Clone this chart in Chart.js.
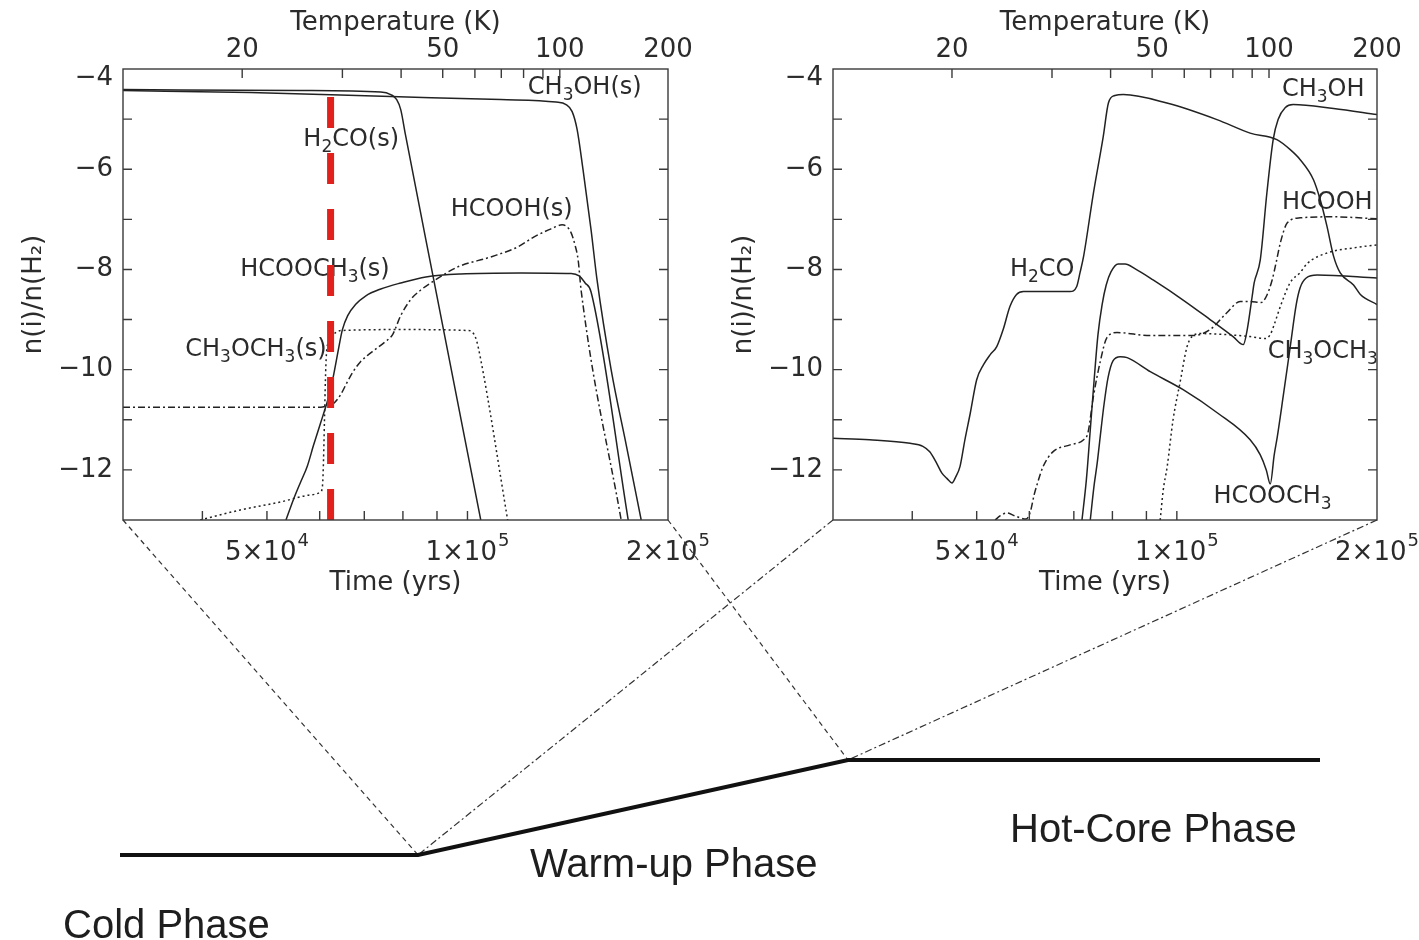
<!DOCTYPE html>
<html>
<head>
<meta charset="utf-8">
<script src="https://cdn.jsdelivr.net/npm/chart.js@4.4.1/dist/chart.umd.min.js"></script>
<style>
  html, body { margin: 0; padding: 0; background: #fff; overflow: hidden; }
  body { width: 1419px; height: 940px; position: relative; }
  .panel { position: absolute; top: 0; height: 610px; }
  #leftBox { left: 0; width: 720px; }
  #rightBox { left: 710px; width: 709px; }
  #phaseBox { position: absolute; left: 0; top: 0; width: 1419px; height: 940px; pointer-events: none; }
</style>
</head>
<body>
<div id="leftBox" class="panel"><canvas id="leftChart"></canvas></div>
<div id="rightBox" class="panel"><canvas id="rightChart"></canvas></div>
<div id="phaseBox"><canvas id="phaseChart"></canvas></div>
<script>
// axes
const timeMin = 3.04e4;
const timeMax = 2.0e5;
const timeTicks = [4e4, 5e4, 6e4, 7e4, 8e4, 9e4, 1e5, 2e5];
const timeTickBase = ['', '5×10', '', '', '', '', '1×10', '2×10'];
const timeTickExp = ['', '4', '', '', '', '', '5', '5'];
// temperature ticks (20..100 K, 200 K) placed at the time they are reached
const tempTicks = [4.59e4, 6.49e4, 7.95e4, 9.18e4, 1.026e5, 1.124e5, 1.214e5, 1.298e5, 1.376e5, 2.0e5];
const tempTickLabels = ['20', '', '', '50', '', '', '', '', '100', '200'];
const abundTicks = [-13, -12, -11, -10, -9, -8, -7, -6, -5, -4];

// left panel: ices, [time (yr), log n(i)/n(H2)]
const iceCH3OH = [[3.04e4,-4.43],[4.72e4,-4.47],[7.67e4,-4.55],[1.122e5,-4.61],[1.358e5,-4.66],[1.406e5,-4.71],[1.436e5,-4.85],[1.461e5,-5.21],[1.491e5,-6.01],[1.533e5,-7.21],[1.565e5,-8.21],[1.643e5,-10.0],[1.731e5,-11.5],[1.823e5,-13.0]];
const iceH2CO = [[3.04e4,-4.41],[5.61e4,-4.43],[7.41e4,-4.46],[7.67e4,-4.51],[7.83e4,-4.61],[7.94e4,-4.81],[8.07e4,-5.31],[8.90e4,-8.21],[1.047e5,-13.0]];
const iceHCOOCH3 = [[5.34e4,-13.0],[5.48e4,-12.59],[5.61e4,-12.26],[5.75e4,-11.92],[5.87e4,-11.52],[6.02e4,-11.06],[6.14e4,-10.70],[6.23e4,-10.40],[6.31e4,-10.04],[6.40e4,-9.60],[6.49e4,-9.20],[6.61e4,-8.92],[6.79e4,-8.70],[7.03e4,-8.53],[7.41e4,-8.39],[7.94e4,-8.27],[8.66e4,-8.15],[9.77e4,-8.09],[1.203e5,-8.07],[1.431e5,-8.08],[1.471e5,-8.13],[1.502e5,-8.27],[1.533e5,-8.45],[1.743e5,-13.0]];
const iceCH3OCH3 = [[3.97e4,-13.0],[4.56e4,-12.80],[5.24e4,-12.64],[5.81e4,-12.50],[6.02e4,-12.44],[6.06e4,-12.30],[6.08e4,-11.80],[6.10e4,-11.00],[6.12e4,-10.20],[6.14e4,-9.70],[6.18e4,-9.46],[6.27e4,-9.32],[6.45e4,-9.22],[7.94e4,-9.20],[1.005e5,-9.22],[1.029e5,-9.37],[1.047e5,-9.80],[1.149e5,-13.0]];
const iceHCOOH = [[3.04e4,-10.75],[6.02e4,-10.75],[6.16e4,-10.72],[6.29e4,-10.68],[6.45e4,-10.50],[6.58e4,-10.28],[6.72e4,-10.06],[6.91e4,-9.84],[7.20e4,-9.64],[7.53e4,-9.44],[7.72e4,-9.30],[7.94e4,-8.92],[8.22e4,-8.60],[8.51e4,-8.41],[8.90e4,-8.23],[9.67e4,-7.95],[1.084e5,-7.75],[1.190e5,-7.55],[1.259e5,-7.35],[1.335e5,-7.19],[1.387e5,-7.11],[1.411e5,-7.15],[1.431e5,-7.27],[1.450e5,-7.51],[1.466e5,-7.81],[1.481e5,-8.41],[1.701e5,-13.0]];
const warmupMarker = [[6.23e4,-4.56],[6.23e4,-13.0]];

// right panel: gas phase
const gasH2CO = [[3.04e4,-11.37],[3.45e4,-11.40],[3.97e4,-11.47],[4.15e4,-11.53],[4.25e4,-11.64],[4.35e4,-11.86],[4.43e4,-12.06],[4.51e4,-12.17],[4.59e4,-12.26],[4.65e4,-12.14],[4.72e4,-11.93],[4.80e4,-11.40],[4.89e4,-10.87],[5.0e4,-10.20],[5.12e4,-9.90],[5.24e4,-9.70],[5.36e4,-9.54],[5.48e4,-9.20],[5.61e4,-8.74],[5.74e4,-8.50],[5.88e4,-8.44],[6.91e4,-8.44],[7.07e4,-8.34],[7.15e4,-8.07],[7.24e4,-7.74],[7.49e4,-6.48],[7.75e4,-5.35],[7.89e4,-4.68],[8.07e4,-4.53],[8.31e4,-4.51],[9.66e4,-4.68],[1.149e5,-5.01],[1.289e5,-5.28],[1.414e5,-5.41],[1.481e5,-5.61],[1.533e5,-5.81],[1.605e5,-6.21],[1.643e5,-6.61],[1.682e5,-7.14],[1.721e5,-7.74],[1.761e5,-8.07],[1.844e5,-8.31],[1.888e5,-8.50],[2.0e5,-8.70]];
const gasCH3OH = [[7.20e4,-13.0],[7.31e4,-12.20],[7.41e4,-11.20],[7.51e4,-10.20],[7.61e4,-9.30],[7.72e4,-8.70],[7.83e4,-8.31],[7.96e4,-8.05],[8.16e4,-7.89],[8.36e4,-7.89],[8.66e4,-7.99],[9.21e4,-8.21],[1.022e5,-8.61],[1.122e5,-9.00],[1.215e5,-9.34],[1.259e5,-9.50],[1.276e5,-9.20],[1.298e5,-8.54],[1.307e5,-8.27],[1.335e5,-7.81],[1.366e5,-6.47],[1.396e5,-5.41],[1.420e5,-5.01],[1.456e5,-4.77],[1.496e5,-4.71],[1.721e5,-4.79],[2.0e5,-4.91]];
const gasHCOOCH3 = [[7.41e4,-13.0],[7.51e4,-12.30],[7.59e4,-11.86],[7.69e4,-11.20],[7.77e4,-10.70],[7.88e4,-10.16],[8.02e4,-9.82],[8.22e4,-9.74],[8.42e4,-9.76],[9.12e4,-10.04],[1.022e5,-10.40],[1.150e5,-10.86],[1.289e5,-11.40],[1.335e5,-11.70],[1.363e5,-12.00],[1.382e5,-12.28],[1.401e5,-11.70],[1.416e5,-11.34],[1.445e5,-10.54],[1.481e5,-9.54],[1.512e5,-8.70],[1.533e5,-8.36],[1.565e5,-8.17],[1.626e5,-8.11],[2.0e5,-8.17]];
const gasHCOOH = [[5.33e4,-13.0],[5.42e4,-12.92],[5.55e4,-12.86],[5.71e4,-12.92],[5.93e4,-12.98],[6.02e4,-12.84],[6.10e4,-12.50],[6.16e4,-12.30],[6.29e4,-11.94],[6.51e4,-11.64],[6.91e4,-11.50],[7.24e4,-11.40],[7.35e4,-11.26],[7.49e4,-10.54],[7.67e4,-9.84],[7.85e4,-9.36],[8.13e4,-9.26],[9.12e4,-9.32],[1.058e5,-9.32],[1.122e5,-9.20],[1.190e5,-8.86],[1.245e5,-8.64],[1.289e5,-8.64],[1.339e5,-8.66],[1.363e5,-8.54],[1.391e5,-8.21],[1.411e5,-7.85],[1.431e5,-7.47],[1.466e5,-7.07],[1.533e5,-6.97],[1.721e5,-6.95],[2.0e5,-6.99]];
const gasCH3OCH3 = [[9.44e4,-13.0],[9.54e4,-12.40],[9.67e4,-11.94],[9.87e4,-11.00],[1.011e5,-10.26],[1.036e5,-9.54],[1.054e5,-9.34],[1.084e5,-9.28],[1.289e5,-9.34],[1.358e5,-9.38],[1.382e5,-9.30],[1.401e5,-9.10],[1.431e5,-8.74],[1.481e5,-8.26],[1.533e5,-8.06],[1.571e5,-7.88],[1.684e5,-7.67],[1.842e5,-7.57],[2.0e5,-7.51]];

// species labels, anchored at (time, abundance) of their left / middle
const iceLabels = [
  { text: 'CH_3OH(s)', t: 1.232e5, v: -4.37 },
  { text: 'H_2CO(s)', t: 5.67e4, v: -5.41 },
  { text: 'HCOOH(s)', t: 9.44e4, v: -6.81 },
  { text: 'HCOOCH_3(s)', t: 4.56e4, v: -8.01 },
  { text: 'CH_3OCH_3(s)', t: 3.77e4, v: -9.60 }
];
const gasLabels = [
  { text: 'CH_3OH', t: 1.439e5, v: -4.41 },
  { text: 'HCOOH', t: 1.439e5, v: -6.66 },
  { text: 'H_2CO', t: 5.61e4, v: -8.01 },
  { text: 'CH_3OCH_3', t: 1.37e5, v: -9.64 },
  { text: 'HCOOCH_3', t: 1.135e5, v: -12.53 }
];

// schematic of the phases (page pixels)
const phaseX = [120, 418, 848, 1320];
const phaseY = [855, 855, 760, 760];
const phaseNames = ['Cold Phase', 'Warm-up Phase', 'Hot-Core Phase'];
const phaseNameX = [63, 530, 1010];
const phaseNameY = [938, 877, 842];

const INK = '#222';
const FONT = '"DejaVu Sans", sans-serif';
Chart.defaults.font.family = FONT;
Chart.defaults.font.size = 26;
Chart.defaults.color = '#2b2b2b';

const frameTicks = {
    id: 'frameTicks',
    afterDraw(chart) {
        const { ctx, chartArea: a, scales } = chart;
        const len = 9;
        ctx.save();
        ctx.strokeStyle = '#3a3a3a';
        ctx.lineWidth = 1.4;
        ctx.strokeRect(a.left, a.top, a.right - a.left, a.bottom - a.top);
        ctx.beginPath();
        scales.x.ticks.forEach(t => {
            const px = scales.x.getPixelForValue(t.value);
            if (px > a.right - 2) return;
            ctx.moveTo(px, a.bottom); ctx.lineTo(px, a.bottom - len);
        });
        scales.x2.ticks.forEach(t => {
            const px = scales.x2.getPixelForValue(t.value);
            if (px > a.right - 2) return;
            ctx.moveTo(px, a.top); ctx.lineTo(px, a.top + len);
        });
        scales.y.ticks.forEach(t => {
            const py = scales.y.getPixelForValue(t.value);
            if (py < a.top + 2 || py > a.bottom - 2) return;
            ctx.moveTo(a.left, py); ctx.lineTo(a.left + len, py);
            ctx.moveTo(a.right, py); ctx.lineTo(a.right - len, py);
        });
        ctx.stroke();

        // time tick labels with raised exponent, whole label centred on the tick
        ctx.fillStyle = '#2b2b2b';
        ctx.textBaseline = 'middle';
        ctx.textAlign = 'left';
        timeTicks.forEach((v, i) => {
            if (!timeTickBase[i]) return;
            const px = scales.x.getPixelForValue(v);
            ctx.font = '18px ' + FONT;
            const we = ctx.measureText(timeTickExp[i]).width;
            ctx.font = '26px ' + FONT;
            const w = ctx.measureText(timeTickBase[i]).width;
            const x0 = px - (w + we + 1) / 2;
            ctx.fillText(timeTickBase[i], x0, a.bottom + 33);
            ctx.font = '18px ' + FONT;
            ctx.fillText(timeTickExp[i], x0 + w + 1, a.bottom + 21);
        });
        ctx.restore();
    }
};

function drawChem(ctx, text, x, y) {
    const parts = text.split(/_(\d)/);
    let cx = x;
    parts.forEach((p, i) => {
        const sub = i % 2 === 1;
        ctx.font = (sub ? '17px ' : '24px ') + FONT;
        ctx.fillText(p, cx, sub ? y + 8 : y);
        cx += ctx.measureText(p).width;
    });
}

function makeLabelPlugin(labels) {
    return {
        id: 'chemLabels',
        beforeDatasetsDraw(chart) {
            const { ctx, scales } = chart;
            ctx.save();
            ctx.fillStyle = '#2b2b2b';
            ctx.textBaseline = 'middle';
            ctx.textAlign = 'left';
            labels.forEach(l => {
                drawChem(ctx, l.text, scales.x.getPixelForValue(l.t), scales.y.getPixelForValue(l.v));
            });
            ctx.restore();
        }
    };
}

function line(data, style) {
    const ds = {
        data: data, xAxisID: 'x', yAxisID: 'y',
        borderColor: INK, borderWidth: 1.5, pointRadius: 0,
        cubicInterpolationMode: 'monotone', fill: false
    };
    if (style === 'dot') ds.borderDash = [2, 3];
    if (style === 'dashdot') ds.borderDash = [7, 3, 2, 3];
    return ds;
}

function yLabel(v) {
    if (v === -4) return ['', '\u22124'];
    return v % 2 === 0 ? '\u2212' + Math.abs(v) : '';
}

function makePanel(canvasId, datasets, labels, padRight) {
    return new Chart(document.getElementById(canvasId), {
        type: 'line',
        data: { datasets: datasets },
        options: {
            animation: false,
            responsive: true,
            maintainAspectRatio: false,
            devicePixelRatio: 1,
            layout: { padding: { left: 0, right: padRight, top: 0, bottom: 0 } },
            plugins: { legend: { display: false }, tooltip: { enabled: false } },
            scales: {
                x: {
                    type: 'logarithmic', position: 'bottom', min: timeMin, max: timeMax, bounds: 'data',
                    grid: { display: false, drawTicks: false }, border: { display: false },
                    afterBuildTicks: s => { s.ticks = timeTicks.map(v => ({ value: v })); },
                    afterFit: s => { s.height = 90; },
                    ticks: { autoSkip: false, maxRotation: 0, padding: 0, callback: () => '' },
                    title: { display: true, text: 'Time (yrs)', padding: { top: 0, bottom: 11 } }
                },
                x2: {
                    type: 'logarithmic', position: 'top', min: timeMin, max: timeMax, bounds: 'data',
                    grid: { display: false, drawTicks: false }, border: { display: false },
                    afterBuildTicks: s => { s.ticks = tempTicks.map(v => ({ value: v })); },
                    afterFit: s => { s.height = 69; },
                    ticks: { autoSkip: false, maxRotation: 0, padding: 3, callback: (v, i) => tempTickLabels[i] },
                    title: { display: true, text: 'Temperature (K)', padding: { top: 8, bottom: 0 } }
                },
                y: {
                    type: 'linear', min: -13, max: -4,
                    grid: { display: false, drawTicks: false }, border: { display: false },
                    afterBuildTicks: s => { s.ticks = abundTicks.map(v => ({ value: v })); },
                    afterFit: s => { s.width = 123; },
                    ticks: {
                        autoSkip: false, padding: 10, callback: yLabel,
                        font: c => (c.tick && c.tick.value === -4 ? { size: 26, lineHeight: 0.7 } : { size: 26 })
                    },
                    title: { display: true, text: 'n(i)/n(H₂)', padding: { top: 19, bottom: 0 } }
                }
            }
        },
        plugins: [frameTicks, makeLabelPlugin(labels)]
    });
}

const marker = line(warmupMarker, 'solid');
marker.borderColor = '#e3211c';
marker.borderWidth = 7;
marker.borderDash = [31, 25];
marker.cubicInterpolationMode = 'default';

const leftChart = makePanel('leftChart', [
    marker,
    line(iceCH3OH, 'solid'),
    line(iceH2CO, 'solid'),
    line(iceHCOOCH3, 'solid'),
    line(iceCH3OCH3, 'dot'),
    line(iceHCOOH, 'dashdot')
], iceLabels, 52);

const rightChart = makePanel('rightChart', [
    line(gasCH3OH, 'solid'),
    line(gasH2CO, 'solid'),
    line(gasHCOOCH3, 'solid'),
    line(gasCH3OCH3, 'dot'),
    line(gasHCOOH, 'dashdot')
], gasLabels, 42);

// zoom connectors run from the plot corners down to the phase breakpoints
const la = leftChart.chartArea;
const ra = rightChart.chartArea;
const lOff = document.getElementById('leftBox').offsetLeft;
const rOff = document.getElementById('rightBox').offsetLeft;

function link(x0, y0, i, dash) {
    return {
        data: [{ x: x0, y: y0 }, { x: phaseX[i], y: phaseY[i] }],
        showLine: true, pointRadius: 0, borderColor: '#333', borderWidth: 1.2,
        borderDash: dash, tension: 0
    };
}

const phaseNamesPlugin = {
    id: 'phaseNames',
    afterDraw(chart) {
        const { ctx, scales } = chart;
        ctx.save();
        ctx.fillStyle = '#1e1e1e';
        ctx.font = '40px "Liberation Sans", Arial, sans-serif';
        ctx.textBaseline = 'alphabetic';
        phaseNames.forEach((n, i) => {
            ctx.fillText(n, scales.x.getPixelForValue(phaseNameX[i]), scales.y.getPixelForValue(phaseNameY[i]));
        });
        ctx.restore();
    }
};

new Chart(document.getElementById('phaseChart'), {
    type: 'scatter',
    data: {
        datasets: [
            {
                data: phaseX.map((x, i) => ({ x: x, y: phaseY[i] })),
                showLine: true, pointRadius: 0, borderColor: '#111', borderWidth: 4, tension: 0
            },
            link(lOff + la.left, la.bottom, 1, [5, 4]),
            link(lOff + la.right, la.bottom, 2, [5, 4]),
            link(rOff + ra.left, ra.bottom, 1, [7, 3, 2, 3]),
            link(rOff + ra.right, ra.bottom, 2, [7, 3, 2, 3])
        ]
    },
    options: {
        animation: false,
        responsive: true,
        maintainAspectRatio: false,
        devicePixelRatio: 1,
        layout: { padding: 0 },
        plugins: { legend: { display: false }, tooltip: { enabled: false } },
        scales: {
            x: { type: 'linear', min: 0, max: 1419, display: false },
            y: { type: 'linear', min: 0, max: 940, reverse: true, display: false }
        }
    },
    plugins: [phaseNamesPlugin]
});
</script>
</body>
</html>
